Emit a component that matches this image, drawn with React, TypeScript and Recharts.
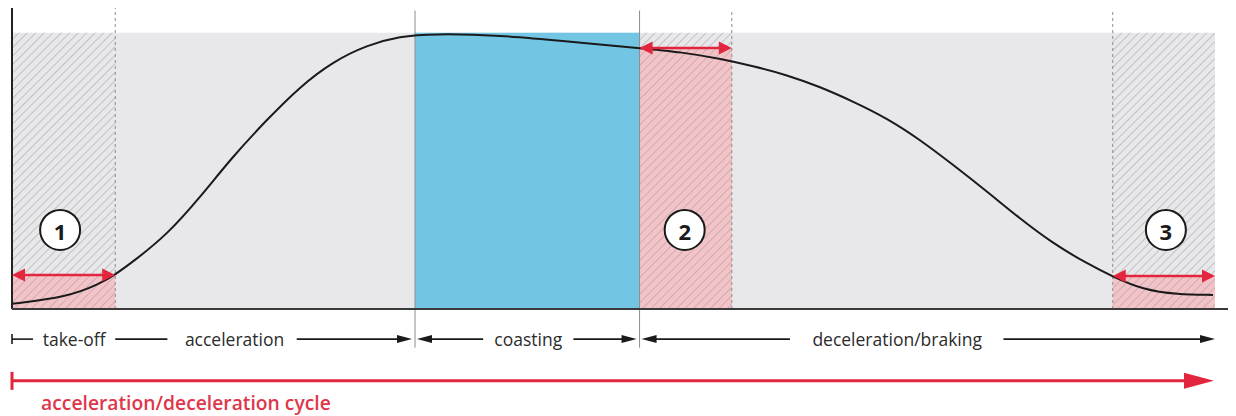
import {
  LineChart,
  Line,
  XAxis,
  YAxis,
  ReferenceArea,
  ReferenceLine,
  ReferenceDot,
} from "recharts";

const FONT = '"Open Sans", sans-serif';
const BG = "#e8e7ea";
const BLUE = "#72c6e4";
const PINK = "#f4c3c8";
const RED = "#e2263e";
const INK = "#1a1a1a";
const RULE = "#8c8c8c";

// speed curve: time units vs speed (% of max)
const time = [0, 5.5, 8.8, 10.3, 12.1, 15.5, 18.8, 22.0, 25.4, 28.7, 32.0, 35.4, 38.7, 42.0, 48.7, 55.4, 62.6, 66.9, 70.6, 73.9, 77.3, 80.6, 83.9, 87.3, 90.6, 93.9, 97.3, 100.5, 103.8, 107.2, 109.8, 112.8, 116.2, 119.8];
const speed = [1.9, 4.3, 9.2, 12.5, 17.2, 27.0, 40.6, 55.1, 68.4, 80.4, 89.5, 95.5, 98.7, 99.6, 99.1, 96.8, 94.4, 92.9, 90.6, 87.9, 84.7, 80.4, 75.1, 69.0, 61.2, 52.1, 42.4, 32.8, 23.8, 16.5, 11.7, 7.0, 5.2, 5.1];

// phase boundaries
const takeOffEnd = 10.3;
const coastStart = 40.2;
const coastEnd = 62.6;
const lagEnd = 71.8;
const stopStart = 109.8;
const cycleEnd = 120;

// numbered zones: [from, to], red marker level, badge position
const zoneFrom = [0, coastEnd, stopStart];
const zoneTo = [takeOffEnd, lagEnd, cycleEnd];
const zoneLevel = [12.3, 94.4, 11.9];
const zoneBadge = ["1", "2", "3"];
const badgeX = [4.8, 67.1, 115.1];
const badgeY = 28.6;

// phase row under the axis
const phaseLabels = ["take-off", "acceleration", "coasting", "deceleration/braking"];
const phaseLabelX = [6.2, 22.2, 51.5, 88.3];
const phaseFrom = [0, 10.3, 28.4, 40.4, 56.0, 62.8, 98.9];
const phaseTo = [2.1, 15.5, 39.9, 47.0, 62.3, 77.6, 120];
const phaseStart = ["bar", "", "", "arrow", "", "arrow", ""];
const phaseEnd = ["", "", "arrow", "", "arrow", "", "arrow"];

const PHASE_Y = -10.9;
const CYCLE_Y = -26;
const CYCLE_TEXT_Y = -34;
const cycleLabel = "acceleration/deceleration cycle";

const data = time.map((t, i) => ({ t, v: speed[i] }));

function arrowShape(opts: {
  color: string;
  width: number;
  len: number;
  half: number;
  start: string;
  end: string;
  bar?: number;
}) {
  return (p: any) => {
    const { x1, y1, x2 } = p;
    const a = opts.start === "arrow" ? x1 + opts.len - 1 : x1;
    const b = opts.end === "arrow" ? x2 - opts.len + 1 : x2;
    return (
      <g>
        <line x1={a} y1={y1} x2={b} y2={y1} stroke={opts.color} strokeWidth={opts.width} />
        {opts.start === "arrow" && (
          <polygon
            points={`${x1},${y1} ${x1 + opts.len},${y1 - opts.half} ${x1 + opts.len},${y1 + opts.half}`}
            fill={opts.color}
          />
        )}
        {opts.end === "arrow" && (
          <polygon
            points={`${x2},${y1} ${x2 - opts.len},${y1 - opts.half} ${x2 - opts.len},${y1 + opts.half}`}
            fill={opts.color}
          />
        )}
        {opts.start === "bar" && (
          <line
            x1={x1}
            y1={y1 - (opts.bar ?? 5)}
            x2={x1}
            y2={y1 + (opts.bar ?? 5)}
            stroke={opts.color}
            strokeWidth={opts.width}
          />
        )}
      </g>
    );
  };
}

function textShape(text: string, size: number, color: string, anchor: string, weight = 400) {
  return (p: any) => (
    <text
      x={p.cx}
      y={p.cy}
      textAnchor={anchor as any}
      dominantBaseline="central"
      fontFamily={FONT}
      fontSize={size}
      fontWeight={weight}
      fill={color}
    >
      {text}
    </text>
  );
}

function badgeShape(text: string) {
  return (p: any) => (
    <g>
      <circle cx={p.cx} cy={p.cy} r={20} fill="#fff" stroke={INK} strokeWidth={2} />
      <text
        x={p.cx}
        y={p.cy + 1}
        textAnchor="middle"
        dominantBaseline="central"
        fontFamily={FONT}
        fontSize={22}
        fontWeight={700}
        fill={INK}
      >
        {text}
      </text>
    </g>
  );
}

export default function App() {
  return (
    <div style={{ margin: "-8px 0 0 -8px", width: 1236, height: 416, background: "#fff" }}>
      <LineChart width={1236} height={416} data={data} margin={{ top: 5, right: 21, bottom: 107, left: 12 }}>
        <defs>
          <pattern id="hatch" width="6" height="6" patternUnits="userSpaceOnUse" patternTransform="rotate(45)">
            <line x1="0" y1="0" x2="0" y2="6" stroke="#9c9c9e" strokeWidth="1" />
          </pattern>
        </defs>
        <XAxis type="number" dataKey="t" domain={[0, 120]} hide allowDataOverflow />
        <YAxis type="number" domain={[0, 110]} hide allowDataOverflow />

        <ReferenceArea x1={0} x2={cycleEnd} y1={0} y2={100} fill={BG} fillOpacity={1} stroke="none" />
        <ReferenceArea x1={coastStart} x2={coastEnd} y1={0} y2={100} fill={BLUE} fillOpacity={1} stroke="none" />
        {zoneFrom.map((f, i) => (
          <ReferenceArea key={`p${i}`} x1={f} x2={zoneTo[i]} y1={0} y2={zoneLevel[i]} fill={PINK} fillOpacity={1} stroke="none" />
        ))}
        {zoneFrom.map((f, i) => (
          <ReferenceArea key={`h${i}`} x1={f} x2={zoneTo[i]} y1={0} y2={100} fill="url(#hatch)" fillOpacity={1} stroke="none" />
        ))}

        {/* boundaries */}
        <ReferenceLine segment={[{ x: takeOffEnd, y: 0 }, { x: takeOffEnd, y: 109 }]} stroke={RULE} strokeDasharray="3 3" ifOverflow="visible" />
        <ReferenceLine segment={[{ x: lagEnd, y: 0 }, { x: lagEnd, y: 108 }]} stroke={RULE} strokeDasharray="3 3" ifOverflow="visible" />
        <ReferenceLine segment={[{ x: stopStart, y: 0 }, { x: stopStart, y: 108.5 }]} stroke={RULE} strokeDasharray="3 3" ifOverflow="visible" />
        <ReferenceLine segment={[{ x: coastStart, y: -14 }, { x: coastStart, y: 108 }]} stroke={RULE} ifOverflow="visible" />
        <ReferenceLine segment={[{ x: coastEnd, y: -14 }, { x: coastEnd, y: 108 }]} stroke={RULE} ifOverflow="visible" />

        {/* axes */}
        <ReferenceLine segment={[{ x: 0, y: 0 }, { x: 0, y: 109.3 }]} stroke="#222" strokeWidth={2} ifOverflow="visible" />
        <ReferenceLine segment={[{ x: 0, y: 0 }, { x: 122.2, y: 0 }]} stroke="#3a3a3a" strokeWidth={2} ifOverflow="visible" />

        <Line type="basis" dataKey="v" stroke={INK} strokeWidth={2} dot={false} isAnimationActive={false} />

        {zoneFrom.map((f, i) => (
          <ReferenceLine
            key={`a${i}`}
            segment={[{ x: f, y: zoneLevel[i] }, { x: zoneTo[i], y: zoneLevel[i] }]}
            ifOverflow="visible"
            shape={arrowShape({ color: RED, width: 2.5, len: 13, half: 6.5, start: "arrow", end: "arrow" })}
          />
        ))}
        {zoneBadge.map((b, i) => (
          <ReferenceDot key={`b${i}`} x={badgeX[i]} y={badgeY} r={20} ifOverflow="visible" shape={badgeShape(b)} />
        ))}

        {/* phase row */}
        {phaseFrom.map((f, i) => (
          <ReferenceLine
            key={`s${i}`}
            segment={[{ x: f, y: PHASE_Y }, { x: phaseTo[i], y: PHASE_Y }]}
            ifOverflow="visible"
            shape={arrowShape({ color: INK, width: 1.6, len: 15, half: 4, start: phaseStart[i], end: phaseEnd[i], bar: 5 })}
          />
        ))}
        {phaseLabels.map((l, i) => (
          <ReferenceDot key={`l${i}`} x={phaseLabelX[i]} y={PHASE_Y} r={1} ifOverflow="visible" shape={textShape(l, 17.5, "#2b2b2b", "middle")} />
        ))}

        {/* cycle row */}
        <ReferenceLine
          segment={[{ x: 0, y: CYCLE_Y }, { x: 119.9, y: CYCLE_Y }]}
          ifOverflow="visible"
          shape={arrowShape({ color: RED, width: 3, len: 30, half: 8, start: "bar", end: "arrow", bar: 9 })}
        />
        <ReferenceDot x={2.9} y={CYCLE_TEXT_Y} r={1} ifOverflow="visible" shape={textShape(cycleLabel, 19.3, "#e0364a", "start", 600)} />
      </LineChart>
    </div>
  );
}
